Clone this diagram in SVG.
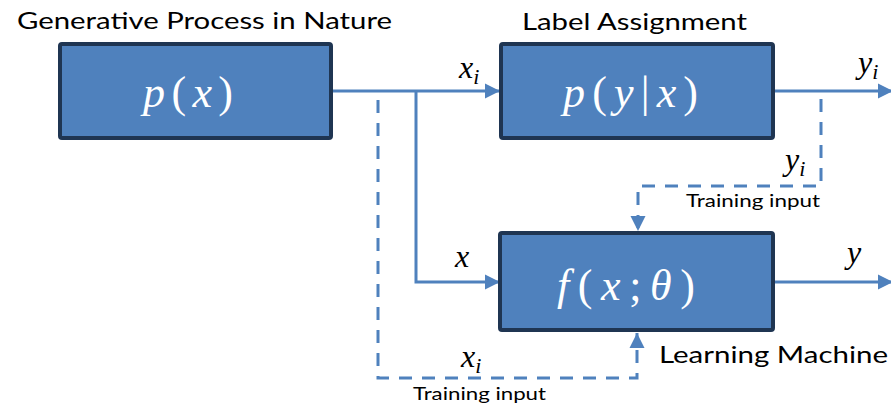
<svg xmlns="http://www.w3.org/2000/svg" width="891" height="407" viewBox="0 0 891 407">
  <defs>
    <marker id="arrow" markerUnits="userSpaceOnUse" markerWidth="16" markerHeight="16" viewBox="0 0 16 16" refX="15" refY="8" orient="auto">
      <path d="M0,0.5 L15,8 L0,15.5 Z" fill="#4F81BD"/>
    </marker>
    <style>
      .box { fill: #4F81BD; stroke: #1F3552; stroke-width: 4; }
      .link { fill: none; stroke: #4F81BD; stroke-width: 3; }
      .dash { stroke-dasharray: 13 10; }
      .title { font-family: Lato, "Liberation Sans", sans-serif; font-size: 23px; fill: #000; }
      .small { font-family: Lato, "Liberation Sans", sans-serif; font-size: 17px; fill: #000; }
      .math { font-family: "Liberation Serif", "Times New Roman", serif; font-style: italic; font-size: 32px; fill: #000; }
      .sub { font-size: 22px; }
      .inbox { font-family: "Liberation Serif", "Times New Roman", serif; font-size: 44px; fill: #FFFFFF; }
      .up { font-style: normal; }
      .it { font-style: italic; }
    </style>
  </defs>

  <!-- connectors -->
  <g id="connectors">
    <line class="link" x1="333" y1="91" x2="500" y2="91" marker-end="url(#arrow)"/>
    <polyline class="link" points="416,91 416,282 500,282" marker-end="url(#arrow)"/>
    <polyline class="link dash" points="378,100 378,378 637,378 637,333" marker-end="url(#arrow)"/>
    <line class="link" x1="775" y1="91" x2="893" y2="91" marker-end="url(#arrow)"/>
    <polyline class="link dash" points="821,99 821,186 638,186 638,231" marker-end="url(#arrow)"/>
    <line class="link" x1="775" y1="282" x2="893" y2="282" marker-end="url(#arrow)"/>
  </g>

  <!-- connector labels -->
  <g id="connector-labels">
    <text class="math" x="459" y="78">x<tspan class="sub" dy="6">i</tspan></text>
    <text class="math" x="858" y="73">y<tspan class="sub" dy="6">i</tspan></text>
    <text class="math" x="785" y="170">y<tspan class="sub" dy="6">i</tspan></text>
    <text class="small" x="686" y="207" textLength="134" lengthAdjust="spacingAndGlyphs">Training input</text>
    <text class="math" x="455" y="267">x</text>
    <text class="math" x="847" y="263">y</text>
    <text class="math" x="461" y="367">x<tspan class="sub" dy="6">i</tspan></text>
    <text class="small" x="413" y="400" textLength="133" lengthAdjust="spacingAndGlyphs">Training input</text>
  </g>

  <!-- generative process -->
  <g id="node-nature">
    <rect class="box" x="60" y="44" width="271" height="94" rx="2"/>
    <text class="inbox" x="143" y="107" textLength="90" lengthAdjust="spacing"><tspan class="it">p</tspan><tspan class="up">(</tspan><tspan class="it">x</tspan><tspan class="up">)</tspan></text>
    <text class="title" x="17" y="29" textLength="375" lengthAdjust="spacingAndGlyphs">Generative Process in Nature</text>
  </g>

  <!-- label assignment -->
  <g id="node-label">
    <rect class="box" x="501" y="44" width="272" height="94" rx="2"/>
    <text class="inbox" x="563" y="107" textLength="135" lengthAdjust="spacing"><tspan class="it">p</tspan><tspan class="up">(</tspan><tspan class="it">y</tspan><tspan class="up">|</tspan><tspan class="it">x</tspan><tspan class="up">)</tspan></text>
    <text class="title" x="522" y="30" textLength="225" lengthAdjust="spacingAndGlyphs">Label Assignment</text>
  </g>

  <!-- learning machine -->
  <g id="node-machine">
    <rect class="box" x="500" y="233" width="273" height="97" rx="2"/>
    <text class="inbox" x="557" y="300" textLength="138" lengthAdjust="spacing"><tspan class="it">f</tspan><tspan class="up">(</tspan><tspan class="it">x</tspan><tspan class="up">;</tspan><tspan class="it">θ</tspan><tspan class="up">)</tspan></text>
    <text class="title" x="659" y="363" textLength="229" lengthAdjust="spacingAndGlyphs">Learning Machine</text>
  </g>
</svg>
